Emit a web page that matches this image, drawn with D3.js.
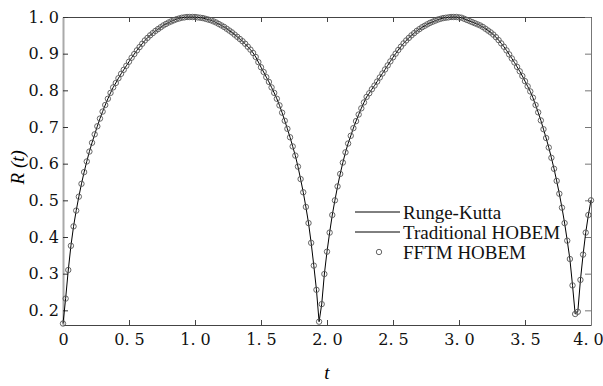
<!DOCTYPE html>
<html>
<head>
<meta charset="utf-8">
<script src="https://cdn.jsdelivr.net/npm/d3@7/dist/d3.min.js"></script>
<style>
body { margin: 0; background: #fff; }
</style>
</head>
<body>
<div id="chart"></div>
<script>
// sampling step of the solution (t = i * tStep)
const tStep = 0.02;

// R(t), one value per sample
const rValues = [
  0.164, 0.232, 0.310, 0.376, 0.429, 0.472, 0.510, 0.545, 0.577, 0.606,
  0.633, 0.657, 0.680, 0.702, 0.723, 0.742, 0.760, 0.777, 0.793, 0.808,
  0.820, 0.833, 0.845, 0.856, 0.867, 0.878, 0.889, 0.899, 0.909, 0.918,
  0.927, 0.936, 0.943, 0.950, 0.956, 0.962, 0.967, 0.972, 0.977, 0.981,
  0.985, 0.988, 0.991, 0.994, 0.996, 0.998, 0.999, 1.000, 1.000, 1.000,
  1.000, 0.999, 0.998, 0.997, 0.995, 0.993, 0.991, 0.988, 0.985, 0.981,
  0.977, 0.973, 0.968, 0.963, 0.958, 0.952, 0.946, 0.940, 0.934, 0.927,
  0.919, 0.911, 0.902, 0.891, 0.877, 0.863, 0.850, 0.836, 0.823, 0.808,
  0.793, 0.777, 0.759, 0.739, 0.717, 0.695, 0.672, 0.647, 0.622, 0.592,
  0.558, 0.522, 0.482, 0.438, 0.384, 0.322, 0.256, 0.169, 0.217, 0.299,
  0.360, 0.412, 0.460, 0.500, 0.538, 0.572, 0.603, 0.631, 0.655, 0.676,
  0.697, 0.716, 0.734, 0.751, 0.767, 0.782, 0.792, 0.803, 0.813, 0.824,
  0.835, 0.846, 0.857, 0.868, 0.879, 0.890, 0.900, 0.910, 0.919, 0.928,
  0.936, 0.943, 0.950, 0.956, 0.962, 0.967, 0.972, 0.976, 0.980, 0.984,
  0.987, 0.990, 0.993, 0.995, 0.997, 0.998, 0.999, 1.000, 1.000, 1.000,
  0.999, 0.998, 0.995, 0.992, 0.989, 0.986, 0.983, 0.980, 0.977, 0.973,
  0.968, 0.963, 0.958, 0.952, 0.945, 0.937, 0.928, 0.919, 0.909, 0.898,
  0.887, 0.876, 0.864, 0.852, 0.839, 0.825, 0.811, 0.797, 0.780, 0.760,
  0.740, 0.718, 0.694, 0.670, 0.644, 0.616, 0.586, 0.553, 0.518, 0.480,
  0.438, 0.390, 0.340, 0.268, 0.190, 0.196, 0.283, 0.352, 0.412, 0.460,
  0.500
];

const xTicks = [0, 0.5, 1.0, 1.5, 2.0, 2.5, 3.0, 3.5, 4.0];
const yTicks = [0.2, 0.3, 0.4, 0.5, 0.6, 0.7, 0.8, 0.9, 1.0];
const legendLabels = ["Runge-Kutta", "Traditional HOBEM", "FFTM HOBEM"];

const width = 603, height = 386;
const margin = {top: 17, right: 12, bottom: 61, left: 63};
const tickFont = "'DejaVu Serif', 'Liberation Serif', serif";
const textFont = "'Liberation Serif', 'Times New Roman', serif";

const points = rValues.map((r, i) => ({t: i * tStep, r: r}));

const x = d3.scaleLinear().domain([0, 4]).range([margin.left, width - margin.right]);
const y = d3.scaleLinear().domain([0.16, 1.0]).range([height - margin.bottom, margin.top]);

// "0. 5" style labels
const fmt = d => d === 0 ? "0" : d3.format(".1f")(d).replace(".", ". ");

const svg = d3.select("#chart").append("svg")
    .attr("width", width)
    .attr("height", height);

// frame + ticks
const gBottom = svg.append("g")
    .attr("transform", `translate(0,${height - margin.bottom})`)
    .call(d3.axisBottom(x).tickValues(xTicks).tickFormat(fmt).tickSizeInner(-5).tickSizeOuter(0).tickPadding(9));
gBottom.select(".domain").attr("stroke", "#444");
gBottom.selectAll(".tick line").attr("stroke", "#444");
gBottom.selectAll(".tick text")
    .style("font-family", tickFont).style("font-size", "16px").attr("fill", "#111")
    .attr("dx", d => d === 4 ? -3 : 0);

const gTop = svg.append("g")
    .attr("transform", `translate(0,${margin.top})`)
    .call(d3.axisTop(x).tickValues(xTicks).tickFormat("").tickSizeInner(-5).tickSizeOuter(0));
gTop.select(".domain").attr("stroke", "#444");
gTop.selectAll(".tick line").attr("stroke", "#444");

const gLeft = svg.append("g")
    .attr("transform", `translate(${margin.left},0)`)
    .call(d3.axisLeft(y).tickValues(yTicks).tickFormat(fmt).tickSizeInner(-5).tickSizeOuter(0).tickPadding(4));
gLeft.select(".domain").attr("stroke", "#aaa").attr("stroke-width", 2);
gLeft.selectAll(".tick line").attr("stroke", "#333");
gLeft.selectAll(".tick text")
    .style("font-family", tickFont).style("font-size", "16px").attr("fill", "#111");

const gRight = svg.append("g")
    .attr("transform", `translate(${width - margin.right},0)`)
    .call(d3.axisRight(y).tickValues(yTicks).tickFormat("").tickSizeInner(-6).tickSizeOuter(0));
gRight.select(".domain").attr("stroke", "#777");
gRight.selectAll(".tick line").attr("stroke", "#777");

// axis titles
svg.append("text")
    .attr("x", x(2)).attr("y", 379)
    .attr("text-anchor", "middle")
    .style("font-family", textFont)
    .style("font-style", "italic")
    .style("font-size", "19px")
    .text("t");

svg.append("text")
    .attr("transform", `translate(24,${y(0.59)}) rotate(-90)`)
    .attr("text-anchor", "middle")
    .style("font-family", textFont)
    .style("font-style", "italic")
    .style("font-size", "19px")
    .text("R (t)");

// Runge-Kutta and traditional HOBEM lines (they coincide)
const line = d3.line().x(d => x(d.t)).y(d => y(d.r));
svg.append("path")
    .datum(points)
    .attr("fill", "none")
    .attr("stroke", "#000")
    .attr("stroke-width", 1)
    .attr("d", line);

// FFTM HOBEM markers
svg.append("g")
    .attr("fill", "none")
    .attr("stroke", "#555")
    .attr("stroke-width", 0.9)
    .selectAll("circle")
    .data(points)
    .join("circle")
    .attr("cx", d => x(d.t))
    .attr("cy", d => y(d.r))
    .attr("r", 2.7);

// legend
const legend = svg.append("g").attr("transform", "translate(355,212)");
legendLabels.forEach((label, i) => {
    const row = legend.append("g").attr("transform", `translate(0,${i * 20})`);
    if (i < 2) {
        row.append("line")
            .attr("x1", 0).attr("x2", 45)
            .attr("stroke", "#000").attr("stroke-width", 1);
    } else {
        row.append("circle")
            .attr("cx", 24).attr("r", 2.7)
            .attr("fill", "none").attr("stroke", "#555").attr("stroke-width", 0.9);
    }
    row.append("text")
        .attr("x", 48).attr("y", 6.5)
        .style("font-family", textFont)
        .style("font-size", "19px")
        .attr("fill", "#111")
        .text(label);
});
</script>
</body>
</html>
